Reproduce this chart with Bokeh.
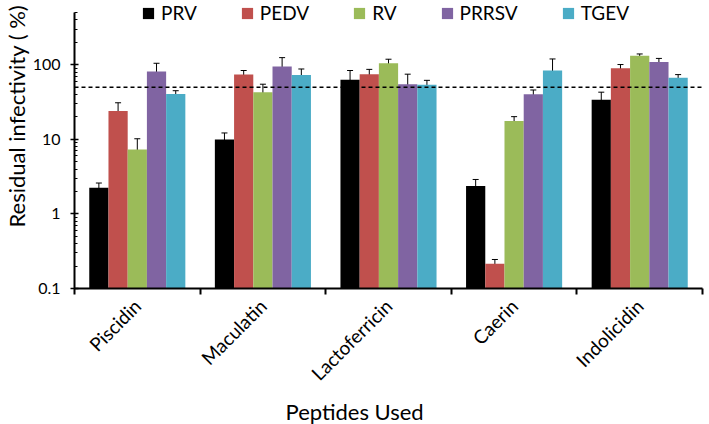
from bokeh.plotting import figure
from bokeh.models import (ColumnDataSource, FixedTicker, Whisker, TeeHead, Span,
                          Legend, LegendItem, Title, Range1d)
from bokeh.embed import file_html
from bokeh.resources import INLINE

# ---------------- data ----------------
peptides = ["Piscidin", "Maculatin", "Lactoferricin", "Caerin", "Indolicidin"]
viruses = ["PRV", "PEDV", "RV", "PRRSV", "TGEV"]
colors = ["#000000", "#C0504D", "#9BBB59", "#8064A2", "#4BACC6"]

prv = [2.24, 10.0, 63, 2.37, 34]
prv_hi = [2.6, 12.2, 84, 2.9, 43]
prv_lo = [1.95, 8.2, 47, 1.95, 27]

pedv = [24, 74, 75, 0.215, 90]
pedv_hi = [31, 84, 87, 0.245, 101]
pedv_lo = [17.4, 66, 65, 0.19, 82]

rv = [7.3, 43, 105, 17.6, 132]
rv_hi = [10.2, 55, 119, 20.2, 140]
rv_lo = [4.5, 31, 91, 15.2, 125]

prrsv = [81.5, 95, 55, 40.4, 109]
prrsv_hi = [105, 125, 75, 46, 122]
prrsv_lo = [62, 66, 36, 36, 99]

tgev = [40.8, 73, 54, 84, 67]
tgev_hi = [45, 88, 62, 120, 74]
tgev_lo = [37, 59, 47, 48, 61]

threshold = 50
y_min, y_max = 0.1, 730
axis_top = 500
y_ticks = [0.1, 1, 10, 100]
y_tick_labels = ["0.1", "1", "10", "100"]

series = [(prv, prv_hi, prv_lo), (pedv, pedv_hi, pedv_lo), (rv, rv_hi, rv_lo),
          (prrsv, prrsv_hi, prrsv_lo), (tgev, tgev_hi, tgev_lo)]

# ---------------- figure ----------------
FONT = "Lato"
bar_w = 0.153

p = figure(width=709, height=424, y_axis_type="log",
           x_range=Range1d(0, len(peptides)), y_range=Range1d(y_min, y_max),
           output_backend="svg", toolbar_location=None,
           min_border_left=72, min_border_right=7, min_border_top=0,
           min_border_bottom=133)
p.xgrid.visible = False
p.ygrid.visible = False
p.outline_line_color = None
p.background_fill_color = "white"

renderers = []
n = len(viruses)
for k, ((vals, hi, lo), col) in enumerate(zip(series, colors)):
    off = (k - (n - 1) / 2) * bar_w
    xs = [i + 0.5 + off for i in range(len(peptides))]
    src = ColumnDataSource(dict(x=xs, top=vals, hi=hi, lo=lo))
    r = p.vbar(x="x", top="top", bottom=y_min, width=bar_w, source=src,
               fill_color=col, line_color=None)
    renderers.append(r)
    w = Whisker(base="x", upper="hi", lower="lo", source=src, dimension="height",
                line_color="black", line_width=1,
                upper_head=TeeHead(size=6, line_color="black", line_width=1),
                lower_head=TeeHead(size=6, line_color="black", line_width=1))
    p.add_layout(w)

p.add_layout(Span(location=threshold, dimension="width", line_dash="4 3",
                  line_color="black", line_width=1.5))

# x axis
xa = p.xaxis[0]
centers = [i + 0.5 for i in range(len(peptides))]
xa.ticker = FixedTicker(ticks=centers, minor_ticks=list(range(len(peptides) + 1)))
xa.major_label_overrides = {c: lab for c, lab in zip(centers, peptides)}
xa.major_label_orientation = 0.785398
xa.major_tick_out = 0
xa.major_tick_in = 0
xa.minor_tick_out = 6
xa.minor_tick_in = 0
xa.minor_tick_line_width = 2
xa.minor_tick_line_color = "black"
xa.axis_line_width = 2
xa.axis_line_color = "black"
xa.major_label_text_font = FONT
xa.major_label_text_font_size = "19px"
xa.major_label_text_color = "black"
xa.major_label_standoff = 8

# y axis
ya = p.yaxis[0]
minor = [m * 10 ** e for e in range(-1, 3) for m in range(2, 10) if m * 10 ** e <= axis_top]
ya.ticker = FixedTicker(ticks=y_ticks, minor_ticks=minor)
ya.major_label_overrides = {t: lab for t, lab in zip(y_ticks, y_tick_labels)}
ya.bounds = (y_min, axis_top)
ya.major_tick_out = 4
ya.major_tick_in = 4
ya.minor_tick_out = 0
ya.minor_tick_in = 3
ya.major_tick_line_width = 1.5
ya.minor_tick_line_width = 1
ya.axis_line_width = 2
ya.axis_line_color = "black"
ya.major_label_text_font = FONT
ya.major_label_text_font_size = "16px"
ya.major_label_text_color = "black"
ya.major_label_standoff = 10

p.add_layout(Title(text="Residual infectivity ( %)", align="left", offset=61,
                   text_font=FONT, text_font_size="22px", text_font_style="normal",
                   text_color="black", standoff=0), "left")
p.add_layout(Title(text="Peptides Used", align="left", offset=211,
                   text_font=FONT, text_font_size="22px", text_font_style="normal",
                   text_color="black", standoff=0), "below")

legend = Legend(items=[LegendItem(label=v, renderers=[r]) for v, r in zip(viruses, renderers)],
                orientation="horizontal", location=(67, 264),
                glyph_width=14, glyph_height=14, label_standoff=6, spacing=43,
                padding=0, margin=0, border_line_color=None,
                background_fill_alpha=0, label_text_font=FONT,
                label_text_font_size="19px", label_text_color="black")
p.add_layout(legend)

open("out.html", "w").write(file_html(p, INLINE))
